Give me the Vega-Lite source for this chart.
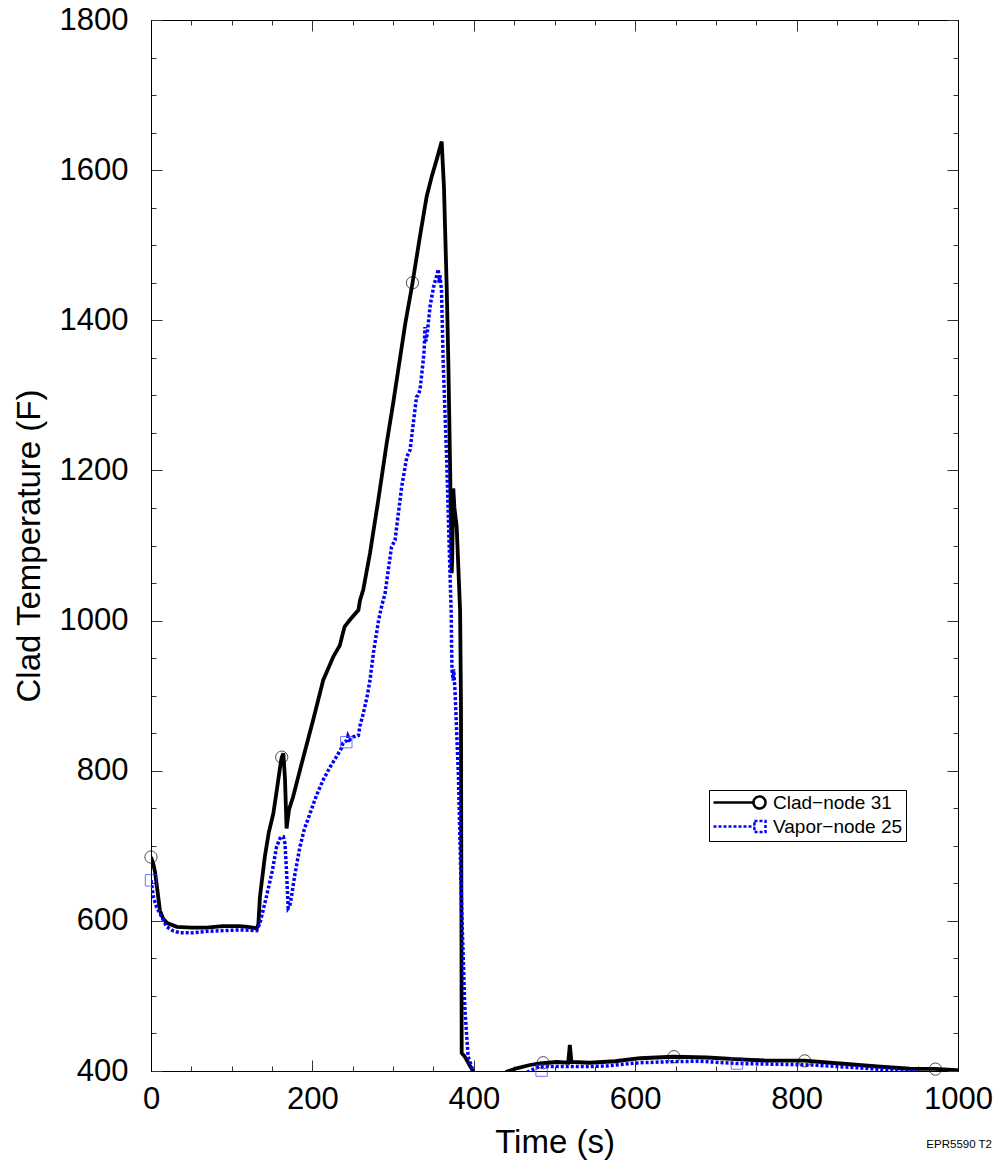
{
  "$schema": "https://vega.github.io/schema/vega-lite/v6.json",
  "width": 807,
  "height": 1051,
  "autosize": {"type": "none"},
  "padding": {"left": 151, "top": 20, "right": 38, "bottom": 90},
  "background": "white",
  "config": {
    "font": "Liberation Sans",
    "view": {"stroke": "black", "strokeWidth": 1},
    "axis": {"grid": false, "domainColor": "black", "domainWidth": 1, "tickColor": "#333", "tickWidth": 1, "labelColor": "black", "titleColor": "black", "labelFont": "Liberation Sans", "titleFont": "Liberation Sans", "labelFontSize": 31, "titleFontSize": 33, "titleFontWeight": "normal", "labelFlush": false, "labelOverlap": false}
  },
  "title": {"text": "EPR5590 T2", "orient": "bottom", "anchor": "end", "frame": "group", "fontSize": 11.5, "fontWeight": "normal", "font": "Liberation Sans", "color": "black", "offset": -20, "dx": 34},
  "datasets": {
    "clad": [
      {"t": 0, "T": 685}, {"t": 3, "T": 675}, {"t": 5, "T": 665}, {"t": 8, "T": 640}, {"t": 11, "T": 614}, {"t": 15, "T": 603}, {"t": 20, "T": 597}, {"t": 32, "T": 592}, {"t": 50, "T": 591}, {"t": 69, "T": 591}, {"t": 89, "T": 593}, {"t": 110, "T": 593}, {"t": 120, "T": 592}, {"t": 131, "T": 590}, {"t": 133, "T": 595}, {"t": 135, "T": 632}, {"t": 141, "T": 685}, {"t": 146, "T": 718}, {"t": 151.6, "T": 743}, {"t": 156, "T": 775}, {"t": 160, "T": 805}, {"t": 162, "T": 818}, {"t": 164, "T": 823}, {"t": 166, "T": 790}, {"t": 168, "T": 723}, {"t": 170, "T": 740}, {"t": 171, "T": 748}, {"t": 176, "T": 765}, {"t": 189, "T": 819}, {"t": 201, "T": 868}, {"t": 213.5, "T": 921}, {"t": 226, "T": 952}, {"t": 234, "T": 967}, {"t": 237, "T": 980}, {"t": 240, "T": 992}, {"t": 246.6, "T": 1001}, {"t": 257, "T": 1014}, {"t": 259, "T": 1027}, {"t": 263, "T": 1041}, {"t": 271.4, "T": 1090}, {"t": 281.7, "T": 1161}, {"t": 292, "T": 1236}, {"t": 300, "T": 1289}, {"t": 306.4, "T": 1334}, {"t": 315, "T": 1395}, {"t": 323.8, "T": 1448}, {"t": 333, "T": 1510}, {"t": 341.6, "T": 1565}, {"t": 348, "T": 1592}, {"t": 354, "T": 1614}, {"t": 360.2, "T": 1638}, {"t": 363, "T": 1578}, {"t": 366.4, "T": 1445}, {"t": 368.4, "T": 1347}, {"t": 370.5, "T": 1214}, {"t": 372.6, "T": 1063}, {"t": 373.2, "T": 1080}, {"t": 374.6, "T": 1176}, {"t": 376, "T": 1150}, {"t": 378.8, "T": 1125}, {"t": 383, "T": 1014}, {"t": 384.1, "T": 894}, {"t": 385, "T": 424}, {"t": 389, "T": 419}, {"t": 399.4, "T": 399}, {"t": 400, "T": 390}, {"t": 438, "T": 385}, {"t": 440.8, "T": 399}, {"t": 453, "T": 403.6}, {"t": 469.6, "T": 408}, {"t": 482, "T": 410}, {"t": 502.7, "T": 412}, {"t": 517, "T": 411}, {"t": 519, "T": 434.6}, {"t": 521, "T": 412}, {"t": 544, "T": 411}, {"t": 575, "T": 413}, {"t": 606, "T": 417}, {"t": 647, "T": 419}, {"t": 688.6, "T": 418}, {"t": 730, "T": 415.6}, {"t": 760, "T": 414}, {"t": 809.5, "T": 413.7}, {"t": 853.8, "T": 410}, {"t": 900, "T": 406}, {"t": 940, "T": 403}, {"t": 971.5, "T": 402.7}, {"t": 998, "T": 401}, {"t": 1000, "T": 401}
    ],
    "vapor": [
      {"t": 0, "T": 654}, {"t": 3, "T": 632}, {"t": 7, "T": 618}, {"t": 11, "T": 610}, {"t": 19.5, "T": 592}, {"t": 27, "T": 587}, {"t": 36, "T": 584}, {"t": 50, "T": 584}, {"t": 69, "T": 586}, {"t": 90, "T": 587}, {"t": 110, "T": 588}, {"t": 131, "T": 587}, {"t": 135, "T": 597}, {"t": 143, "T": 632}, {"t": 150, "T": 665}, {"t": 155.7, "T": 699}, {"t": 160, "T": 710}, {"t": 162, "T": 712}, {"t": 164, "T": 712}, {"t": 166, "T": 703}, {"t": 168, "T": 665}, {"t": 170, "T": 617}, {"t": 172, "T": 620}, {"t": 174, "T": 632}, {"t": 178, "T": 660}, {"t": 184.6, "T": 699}, {"t": 190, "T": 722}, {"t": 197, "T": 743}, {"t": 205, "T": 767}, {"t": 213.5, "T": 788}, {"t": 222, "T": 805}, {"t": 230, "T": 819}, {"t": 236, "T": 830}, {"t": 238, "T": 837}, {"t": 242.5, "T": 840}, {"t": 244, "T": 846}, {"t": 246, "T": 841}, {"t": 250.7, "T": 845}, {"t": 257, "T": 847}, {"t": 259, "T": 860}, {"t": 263, "T": 876}, {"t": 268, "T": 900}, {"t": 271.4, "T": 921}, {"t": 276, "T": 960}, {"t": 282, "T": 1000}, {"t": 286, "T": 1020}, {"t": 290, "T": 1036}, {"t": 298, "T": 1098}, {"t": 302.4, "T": 1107}, {"t": 310.6, "T": 1178}, {"t": 317, "T": 1218}, {"t": 321, "T": 1227}, {"t": 327, "T": 1280}, {"t": 329, "T": 1298}, {"t": 331, "T": 1300}, {"t": 333.3, "T": 1307}, {"t": 337.4, "T": 1347}, {"t": 338.5, "T": 1360}, {"t": 339.5, "T": 1391}, {"t": 340.5, "T": 1372}, {"t": 342, "T": 1380}, {"t": 346, "T": 1420}, {"t": 351, "T": 1449}, {"t": 353, "T": 1455}, {"t": 356, "T": 1468}, {"t": 357, "T": 1450}, {"t": 358, "T": 1460}, {"t": 360, "T": 1440}, {"t": 362, "T": 1347}, {"t": 366.4, "T": 1214}, {"t": 370.5, "T": 1063}, {"t": 372, "T": 1010}, {"t": 372.6, "T": 960}, {"t": 373, "T": 934}, {"t": 374.5, "T": 920}, {"t": 375, "T": 935}, {"t": 376.7, "T": 907}, {"t": 381, "T": 792}, {"t": 385, "T": 614}, {"t": 389, "T": 481}, {"t": 393, "T": 419}, {"t": 399.4, "T": 399}, {"t": 400, "T": 390}, {"t": 430, "T": 380}, {"t": 466, "T": 398}, {"t": 467.5, "T": 399}, {"t": 475, "T": 403}, {"t": 482, "T": 406}, {"t": 500, "T": 406}, {"t": 523, "T": 406}, {"t": 545, "T": 406}, {"t": 564.7, "T": 406.7}, {"t": 585, "T": 409}, {"t": 606, "T": 411}, {"t": 647, "T": 412.5}, {"t": 680, "T": 413}, {"t": 726, "T": 410}, {"t": 773, "T": 409}, {"t": 820.7, "T": 408}, {"t": 880, "T": 404}, {"t": 920, "T": 401}, {"t": 949, "T": 399}
    ],
    "markers": [
      {"series": "Clad−node 31", "t": 0, "T": 685}, {"series": "Clad−node 31", "t": 162, "T": 818}, {"series": "Clad−node 31", "t": 324, "T": 1450}, {"series": "Clad−node 31", "t": 486, "T": 411}, {"series": "Clad−node 31", "t": 648, "T": 419}, {"series": "Clad−node 31", "t": 810, "T": 413.5}, {"series": "Clad−node 31", "t": 972, "T": 402.5},
      {"series": "Vapor−node 25", "t": 0, "T": 654}, {"series": "Vapor−node 25", "t": 242, "T": 838}, {"series": "Vapor−node 25", "t": 484, "T": 400.5}, {"series": "Vapor−node 25", "t": 726, "T": 410}
    ]
  },
  "resolve": {"axis": {"x": "independent", "y": "independent"}},
  "layer": [
    {
      "data": {"name": "clad"},
      "mark": {"type": "line", "color": "black", "strokeWidth": 3.8, "clip": true, "strokeJoin": "miter"},
      "encoding": {
        "x": {"field": "t", "type": "quantitative", "scale": {"domain": [0, 1000], "nice": false, "zero": false},
          "axis": {"orient": "bottom", "format": "d", "values": [0,50,100,150,200,250,300,350,400,450,500,550,600,650,700,750,800,850,900,950,1000],
            "labelExpr": "datum.value % 200 === 0 ? datum.label : ''",
            "tickSize": {"condition": {"test": "datum.value % 200 === 0", "value": -11}, "value": -5},
            "labelPadding": 24, "title": "Time (s)", "titlePadding": 6}},
        "y": {"field": "T", "type": "quantitative", "scale": {"domain": [400, 1800], "nice": false, "zero": false},
          "axis": {"orient": "left", "format": "d", "values": [400,450,500,550,600,650,700,750,800,850,900,950,1000,1050,1100,1150,1200,1250,1300,1350,1400,1450,1500,1550,1600,1650,1700,1750,1800],
            "labelExpr": "datum.value % 200 === 0 ? datum.label : ''",
            "tickSize": {"condition": {"test": "datum.value % 200 === 0", "value": -11}, "value": -5},
            "labelPadding": 34, "title": "Clad Temperature (F)", "titlePadding": 13}}
      }
    },
    {
      "data": {"name": "vapor"},
      "mark": {"type": "line", "color": "#0000ff", "strokeWidth": 3.5, "strokeDash": [3, 2], "clip": true},
      "encoding": {
        "x": {"field": "t", "type": "quantitative",
          "axis": {"orient": "top", "values": [0,50,100,150,200,250,300,350,400,450,500,550,600,650,700,750,800,850,900,950,1000],
            "labels": false, "title": null,
            "tickSize": {"condition": {"test": "datum.value % 200 === 0", "value": -11}, "value": -5}}},
        "y": {"field": "T", "type": "quantitative",
          "axis": {"orient": "right", "values": [400,450,500,550,600,650,700,750,800,850,900,950,1000,1050,1100,1150,1200,1250,1300,1350,1400,1450,1500,1550,1600,1650,1700,1750,1800],
            "labels": false, "title": null,
            "tickSize": {"condition": {"test": "datum.value % 200 === 0", "value": -11}, "value": -5}}}
      }
    },
    {
      "data": {"name": "markers"},
      "transform": [{"filter": "datum.series === 'Clad−node 31'"}],
      "mark": {"type": "point", "shape": "circle", "size": 150, "stroke": "black", "strokeWidth": 1, "filled": false},
      "encoding": {
        "x": {"field": "t", "type": "quantitative", "axis": null},
        "y": {"field": "T", "type": "quantitative", "axis": null}
      }
    },
    {
      "data": {"name": "markers"},
      "transform": [{"filter": "datum.series === 'Vapor−node 25'"}],
      "mark": {"type": "point", "shape": "square", "size": 130, "stroke": "#3a3aff", "strokeWidth": 1, "filled": false},
      "encoding": {
        "x": {"field": "t", "type": "quantitative", "axis": null},
        "y": {"field": "T", "type": "quantitative", "axis": null}
      }
    },
    {
      "data": {"name": "markers"},
      "mark": {"type": "point", "opacity": 0, "filled": false},
      "encoding": {
        "x": {"field": "t", "type": "quantitative", "axis": null},
        "y": {"field": "T", "type": "quantitative", "axis": null},
        "color": {"field": "series", "type": "nominal", "scale": {"domain": ["Clad−node 31", "Vapor−node 25"], "range": ["black", "#0000ff"]},
          "legend": {"orient": "none", "legendX": 558, "legendY": 770, "title": null, "strokeColor": "black", "fillColor": "white", "padding": 3, "labelFontSize": 19, "labelFont": "Liberation Sans", "labelColor": "black", "symbolSize": 256, "symbolStrokeWidth": 2.5, "labelOffset": 42, "rowPadding": 1}},
        "shape": {"field": "series", "type": "nominal", "scale": {"domain": ["Clad−node 31", "Vapor−node 25"], "range": ["M-1,0L4,0M5.5,0A0.75,0.75,0,1,1,4,0A0.75,0.75,0,1,1,5.5,0", "M-1,0L4.12,0M4.12,-0.69L5.5,-0.69L5.5,0.69L4.12,0.69Z"]}},
        "strokeDash": {"field": "series", "type": "nominal", "scale": {"domain": ["Clad−node 31", "Vapor−node 25"], "range": [[1, 0], [3, 2]]}}
      }
    }
  ]
}
